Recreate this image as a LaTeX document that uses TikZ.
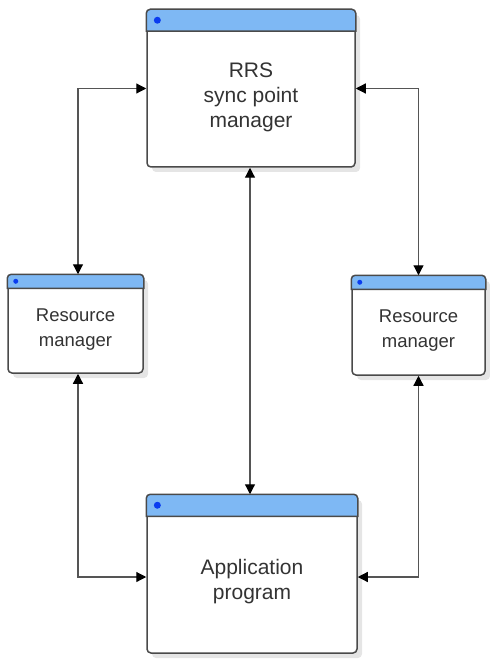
\documentclass[tikz,border=0pt]{standalone}
\usepackage{fontspec}
\setmainfont{Liberation Sans}
\usetikzlibrary{arrows.meta,shadows,calc}
\definecolor{bordc}{HTML}{4A4A4A}
\definecolor{hdrc}{HTML}{7EB8F4}
\definecolor{dotc}{HTML}{0A3CF0}
\definecolor{linec}{HTML}{555555}
\definecolor{txtc}{HTML}{333333}
\begin{document}
\begin{tikzpicture}[x=1pt,y=-1pt,
  win/.style={draw=bordc, line width=1.5pt, fill=white, rounded corners=4pt, inner sep=0pt,
    drop shadow={shadow xshift=5pt, shadow yshift=-5pt, fill=black!10, opacity=1}},
  hdr/.style={fill=hdrc, draw=bordc, line width=1.5pt},
  dotst/.style={fill=dotc},
  big/.style={text=txtc, align=center, font=\fontsize{21}{25}\selectfont},
  small/.style={text=txtc, align=center, font=\fontsize{18.5}{25}\selectfont},
  conn/.style={draw=linec, line width=1.2pt,
    {Triangle[length=10pt,width=10pt,color=black]}-{Triangle[length=10pt,width=10pt,color=black]}}
]
\useasboundingbox (0,0) rectangle (489,660);

% boxes
\node[win, minimum width=208pt, minimum height=157pt] (top) at (251,88.5) {};
\node[win, minimum width=135pt, minimum height=98pt] (lft) at (75.5,324) {};
\node[win, minimum width=133pt, minimum height=99pt] (rgt) at (418.5,325.5) {};
\node[win, minimum width=210pt, minimum height=158pt] (bot) at (252,574) {};

% headers
\foreach \b/\h/\r in {top/22/3.5, bot/22/3.5, lft/14/2.5, rgt/14/2.5}{
  \draw[hdr] ($(\b.north west)+(0,\h)$) [rounded corners=4pt] -- (\b.north west) -- (\b.north east) [sharp corners] -- ($(\b.north east)+(0,\h)$) -- cycle;
  \fill[dotst] ($(\b.north west)+(2.6*\r+2,\h/2)$) circle (\r);
}

% labels
\node[big] (toptext) at (251,97) {RRS\\sync point\\manager};
\node[small] (lfttext) at (75.5,330) {Resource\\manager};
\node[small] (rgttext) at (418.5,331) {Resource\\manager};
\node[big] (bottext) at (252,582) {Application\\program};

% connectors
\draw[conn] ([xshift=2.5pt]lft.north) |- (top.west);
\draw[conn] (rgt.north) |- (top.east);
\draw[conn] ([xshift=-1pt]top.south) -- ([xshift=-1pt]top.south |- bot.north);
\draw[conn] ([xshift=2.5pt]lft.south) |- ($(bot.west)+(0,3)$);
\draw[conn] (rgt.south) |- ($(bot.east)+(0,3)$);
\end{tikzpicture}
\end{document}
